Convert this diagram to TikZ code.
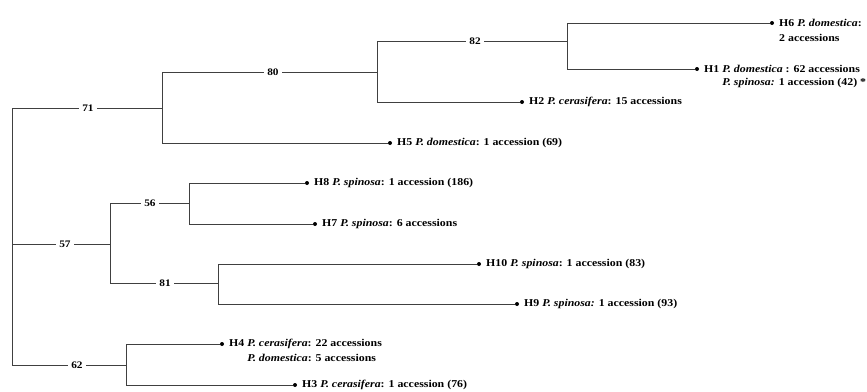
\documentclass[tikz,border=0pt]{standalone}
\usepackage{fontspec}
\setmainfont[FakeStretch=1.13]{Liberation Serif}
\begin{document}
\begin{tikzpicture}[x=1pt,y=-1pt,
  br/.style={draw=black!75, line width=0.8pt},
  bs/.style={fill=white, inner xsep=3pt, inner ysep=1pt, font=\bfseries\fontsize{10}{12}\selectfont},
  tip/.style={circle, fill=black, inner sep=0pt, minimum size=4pt},
  leaf/.style={anchor=west, inner sep=0pt, xshift=7pt, font=\bfseries\fontsize{10.5}{13}\selectfont},
  leaftwo/.style={anchor=base west, inner sep=0pt, font=\bfseries\fontsize{10.5}{13}\selectfont}]
\useasboundingbox (0,0) rectangle (867,391);
% internal nodes
\coordinate (root) at (12,244);
\coordinate (n71) at (162,108);
\coordinate (n80) at (377,72);
\coordinate (n82) at (567,41);
\coordinate (n57) at (110,244);
\coordinate (n56) at (189,203);
\coordinate (n81) at (218,283);
\coordinate (n62) at (126,365);
% tips
\node[tip] (t6) at (772,23) {};
\node[tip] (t1) at (697,69) {};
\node[tip] (t2) at (522,102) {};
\node[tip] (t5) at (390,143) {};
\node[tip] (t8) at (307,183) {};
\node[tip] (t7) at (315,224) {};
\node[tip] (t10) at (479,264) {};
\node[tip] (t9) at (517,304) {};
\node[tip] (t4) at (222,344) {};
\node[tip] (t3) at (295,385) {};
% branches
\draw[br] (root) |- node[bs, pos=0.753] (b71) {71} (n71);
\draw[br] (root) |- node[bs, pos=0.77] (b57) {57} (n57);
\draw[br] (root) |- node[bs, pos=0.785] (b62) {62} (n62);
\draw[br] (n71) |- node[bs, pos=0.758] (b80) {80} (n80);
\draw[br] (n71) |- (t5);
\draw[br] (n80) |- node[bs, pos=0.758] (b82) {82} (n82);
\draw[br] (n80) |- (t2);
\draw[br] (n82) |- (t6);
\draw[br] (n82) |- (t1);
\draw[br] (n57) |- node[bs, pos=0.753] (b56) {56} (n56);
\draw[br] (n57) |- node[bs, pos=0.755] (b81) {81} (n81);
\draw[br] (n56) |- (t8);
\draw[br] (n56) |- (t7);
\draw[br] (n81) |- (t10);
\draw[br] (n81) |- (t9);
\draw[br] (n62) |- (t4);
\draw[br] (n62) |- (t3);
% leaf labels
\node[leaf] (l6) at (t6.center) {H6 \textit{P. domestica}:};
\node[leaftwo] (l6b) at ([yshift=-14.5pt]l6.base west) {2 accessions};
\node[leaf] (l1) at (t1.center) {H1 \textit{P. domestica} : 62 accessions};
\node[leaftwo] (l1b) at ([yshift=-13pt]l1.base west) {\phantom{H1 }\textit{P. spinosa:} 1 accession (42) *};
\node[leaf] (l2) at (t2.center) {H2 \textit{P. cerasifera}: 15 accessions};
\node[leaf] (l5) at (t5.center) {H5 \textit{P. domestica}: 1 accession (69)};
\node[leaf] (l8) at (t8.center) {H8 \textit{P. spinosa}: 1 accession (186)};
\node[leaf] (l7) at (t7.center) {H7 \textit{P. spinosa}: 6 accessions};
\node[leaf] (l10) at (t10.center) {H10 \textit{P. spinosa}: 1 accession (83)};
\node[leaf] (l9) at (t9.center) {H9 \textit{P. spinosa:} 1 accession (93)};
\node[leaf] (l4) at (t4.center) {H4 \textit{P. cerasifera}: 22 accessions};
\node[leaftwo] (l4b) at ([yshift=-15pt]l4.base west) {\phantom{H4 }\textit{P. domestica}: 5 accessions};
\node[leaf] (l3) at (t3.center) {H3 \textit{P. cerasifera}: 1 accession (76)};
\end{tikzpicture}
\end{document}
